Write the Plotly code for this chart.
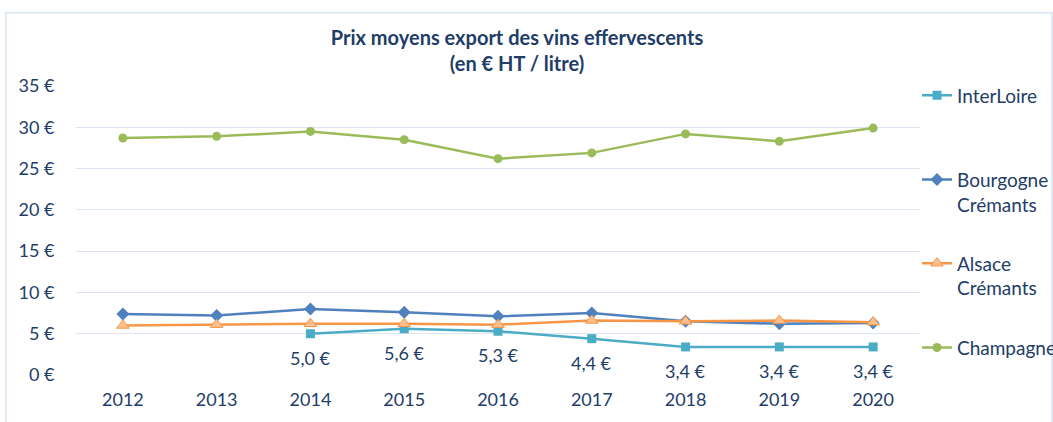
import plotly.graph_objects as go

years = ["2012", "2013", "2014", "2015", "2016", "2017", "2018", "2019", "2020"]
interloire = [None, None, 5.0, 5.6, 5.3, 4.4, 3.4, 3.4, 3.4]
bourgogne = [7.4, 7.2, 8.0, 7.6, 7.1, 7.5, 6.5, 6.2, 6.3]
alsace = [6.0, 6.1, 6.2, 6.2, 6.1, 6.6, 6.5, 6.6, 6.4]
champagne = [28.7, 28.9, 29.5, 28.5, 26.2, 26.9, 29.2, 28.3, 29.9]
y_ticks = [0, 5, 10, 15, 20, 25, 30, 35]
y_ticktext = ["0 €", "5 €", "10 €", "15 €", "20 €", "25 €", "30 €", "35 €"]

FONT = "Lato"
TXT = "#223D68"
GRID = "#DCE5F4"

fig = go.Figure()
fig.add_trace(go.Scatter(x=years, y=interloire, name="InterLoire", mode="lines+markers",
                         line=dict(color="#4BACC6", width=2.5),
                         marker=dict(symbol="square", size=9, color="#4BACC6"),
                         legend="legend"))
fig.add_trace(go.Scatter(x=years, y=bourgogne, name="Bourgogne<br>Crémants", mode="lines+markers",
                         line=dict(color="#4F81BD", width=2.5),
                         marker=dict(symbol="diamond", size=10, color="#4F81BD"),
                         legend="legend2"))
fig.add_trace(go.Scatter(x=years, y=alsace, name="Alsace<br>Crémants", mode="lines+markers",
                         line=dict(color="#F79646", width=2.5),
                         marker=dict(symbol="triangle-up", size=11, color="#FAC090",
                                     line=dict(color="#F79646", width=1)),
                         legend="legend3"))
fig.add_trace(go.Scatter(x=years, y=champagne, name="Champagne", mode="lines+markers",
                         line=dict(color="#9BBB59", width=2.5),
                         marker=dict(symbol="circle", size=9, color="#9BBB59"),
                         legend="legend4"))

for i, v in enumerate(interloire):
    if v is None:
        continue
    fig.add_annotation(x=i, y=v, xref="x", yref="y", text=f"{v:.1f} €".replace(".", ","),
                       showarrow=False, yshift=-24,
                       font=dict(family=FONT, size=18, color=TXT))

T, B, L, R = 85.5, 46.5, 76, 133
H = 422 - T - B
W = 1053 - L - R

def py(p):
    return (422 - B - p) / H

def px(p):
    return (p - L) / W

leg_common = dict(font=dict(family=FONT, size=19, color=TXT), bgcolor="rgba(0,0,0,0)",
                  xanchor="left", yanchor="middle", valign="top", x=px(917),
                  itemwidth=30, tracegroupgap=0)

fig.update_layout(
    width=1053, height=422,
    margin=dict(l=L, r=R, t=T, b=B, autoexpand=False),
    paper_bgcolor="white", plot_bgcolor="white",
    title=dict(text="<b>Prix moyens export des vins effervescents<br>(en € HT / litre)</b>",
               x=517 / 1053, xanchor="center", y=1 - 45 / 422, yanchor="middle",
               font=dict(family=FONT, size=20, color=TXT)),
    xaxis=dict(type="category", range=[-0.5, len(years) - 0.5], showgrid=False,
               showline=False, zeroline=False,
               ticks="outside", ticklen=8, tickcolor="rgba(0,0,0,0)",
               tickfont=dict(family=FONT, size=18, color=TXT)),
    yaxis=dict(range=[0, 35], tickvals=y_ticks, ticktext=y_ticktext, showgrid=True,
               gridcolor=GRID, gridwidth=1, zeroline=False, showline=False,
               ticks="outside", ticklen=17, tickcolor="rgba(0,0,0,0)",
               tickfont=dict(family=FONT, size=18, color=TXT)),
    legend=dict(y=py(95), **leg_common),
    legend2=dict(y=py(192), **leg_common),
    legend3=dict(y=py(276), **leg_common),
    legend4=dict(y=py(348), **leg_common),
    shapes=[dict(type="rect", xref="paper", yref="paper",
                 x0=px(6), x1=px(1052), y0=py(440), y1=py(12),
                 line=dict(color="#D6E4F2", width=1.5), fillcolor="rgba(0,0,0,0)", layer="below")],
    showlegend=True,
)
fig.write_html("out.html", post_script="document.body.style.margin='0';",
               config={"displayModeBar": False})
